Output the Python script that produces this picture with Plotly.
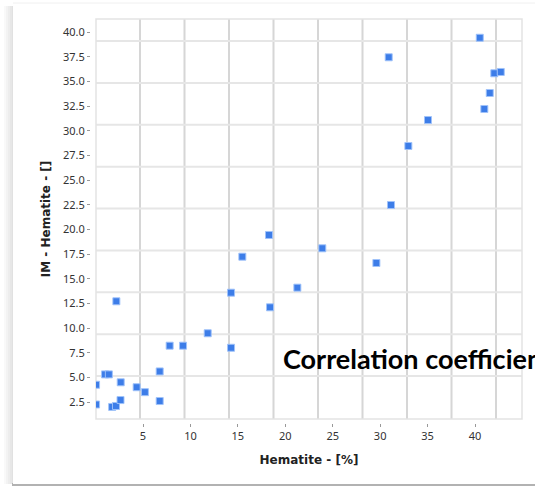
import plotly.graph_objects as go

# Hematite content vs. IM hematite value
hematite_pct = [0.05, 0.05, 1.0, 1.4, 1.75, 2.15, 2.19, 2.65, 2.63, 4.33, 5.2,
                6.76, 6.76, 7.81, 9.22, 11.82, 14.28, 14.28, 15.47, 18.39, 18.28,
                21.27, 23.9, 29.6, 31.14, 30.9, 32.97, 35.04, 40.5, 40.98, 41.55,
                42.03, 42.71]
im_hematite = [4.25, 2.25, 5.3, 5.3, 2.0, 2.1, 12.71, 4.5, 2.7, 4.0, 3.5,
               5.6, 2.6, 8.21, 8.21, 9.47, 8.0, 13.58, 17.23, 12.1, 19.43,
               14.09, 18.08, 16.59, 22.47, 37.44, 28.45, 31.08, 39.42, 32.2, 33.82,
               35.82, 35.95]

x_title = "Hematite - [%]"
y_title = "IM - Hematite - []"
note_text = "Correlation coefficient"

W, H = 535, 486
ML, MR, MT, MB = 90, 13, 19, 63
PW, PH = W - ML - MR, H - MT - MB
x_dom0 = 6 / PW
y_dom0 = 4 / PH


def px_x(px):
    return (px - ML) / PW


def px_y(py):
    return (PH + MT - py) / PH


fig = go.Figure()
fig.add_trace(go.Scatter(
    x=hematite_pct, y=im_hematite, mode="markers",
    marker=dict(symbol="square", size=7, color="#3D7DE8",
                line=dict(width=1, color="rgba(160,195,250,0.95)")),
    cliponaxis=True, showlegend=False,
))

shapes = []
# soft shadow on the left of the card
for i in range(5):
    shapes.append(dict(type="rect", xref="paper", yref="paper", layer="below",
                       x0=px_x(4 + 2 * i), x1=px_x(14),
                       y0=px_y(484), y1=px_y(6),
                       line=dict(width=0), fillcolor="rgba(0,0,0,0.025)"))
# darker bottom edge
shapes.append(dict(type="rect", xref="paper", yref="paper", layer="below",
                   x0=px_x(12), x1=1.2, y0=px_y(487), y1=px_y(483),
                   line=dict(width=0), fillcolor="#b2b2b2"))
# card
shapes.append(dict(type="rect", xref="paper", yref="paper", layer="below",
                   x0=px_x(13), x1=1.2, y0=px_y(484), y1=px_y(3),
                   line=dict(width=0), fillcolor="white"))
shapes.append(dict(type="line", xref="paper", yref="paper", layer="below",
                   x0=px_x(13), x1=1.2, y0=px_y(3), y1=px_y(3),
                   line=dict(width=1, color="#f0f0f0")))

# background grid of the plot area
for i in range(9):
    fx = (140 + 44.5 * i - 96) / 426
    shapes.append(dict(type="line", xref="x domain", yref="y domain", layer="below",
                       x0=fx, x1=fx, y0=0, y1=1,
                       line=dict(color="#d6d6d6", width=2)))
for i in range(9):
    fy = (43 + 41.875 * i) / 400
    shapes.append(dict(type="line", xref="x domain", yref="y domain", layer="below",
                       x0=0, x1=1, y0=fy, y1=fy,
                       line=dict(color="#e6e6e6", width=2)))
shapes.append(dict(type="rect", xref="x domain", yref="y domain", layer="below",
                   x0=0, x1=1, y0=0, y1=1,
                   line=dict(color="#e3e3e3", width=1.5)))

fig.update_layout(
    width=W, height=H,
    margin=dict(l=ML, r=MR, t=MT, b=MB),
    paper_bgcolor="white", plot_bgcolor="rgba(0,0,0,0)",
    shapes=shapes,
    xaxis=dict(range=[0.045, 44.95], domain=[x_dom0, 1], anchor="free", position=0,
               tick0=0, dtick=5, ticks="outside", ticklen=3, tickcolor="#999",
               showgrid=False, zeroline=False, showline=False,
               tickfont=dict(family="Noto Sans", size=11, color="#333"),
               title=dict(text=f"<b>{x_title}</b>", standoff=13,
                          font=dict(family="DejaVu Sans", size=12, color="#222"))),
    yaxis=dict(range=[0.78, 41.32], domain=[y_dom0, 1], anchor="free", position=0,
               tick0=0, dtick=2.5, tickformat=".1f", ticks="outside", ticklen=3,
               tickcolor="#999", showgrid=False, zeroline=False, showline=False,
               tickfont=dict(family="Noto Sans", size=11, color="#333"),
               title=dict(text=f"<b>{y_title}</b>", standoff=8,
                          font=dict(family="DejaVu Sans", size=12, color="#222"))),
    annotations=[dict(text=f"<b>{note_text}</b>", xref="paper", yref="paper",
                      x=px_x(281), y=px_y(358),
                      xanchor="left", yanchor="middle", showarrow=False,
                      font=dict(family="Lato", size=27, color="#000"))],
)

fig.write_html("out.html")
